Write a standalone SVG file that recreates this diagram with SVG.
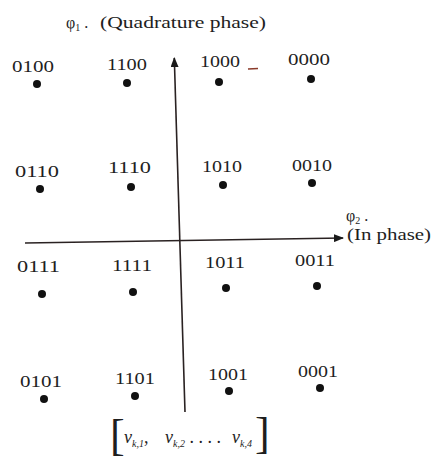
<svg xmlns="http://www.w3.org/2000/svg" width="432" height="460" viewBox="0 0 432 460">
<style>
.lbl{font-family:"Liberation Serif",serif;font-size:17.5px;fill:#1e1e1e}
.cap{font-family:"Liberation Serif",serif;font-size:16px;fill:#1e1e1e}
.sub{font-size:10px}
.dot{fill:#111}
.ax{stroke:#2a2222;stroke-width:1.6;fill:none}
.it{font-style:italic}
.br{font-family:"Liberation Serif",serif;font-size:44px;fill:#1e1e1e}
</style>
<defs>
<marker id="ah" markerWidth="10" markerHeight="8" refX="9" refY="4" orient="auto" markerUnits="userSpaceOnUse">
<path d="M0,0 L10,4 L0,8 Z" fill="#1a1a1a"/>
</marker>
</defs>
<rect width="432" height="460" fill="#fff"/>
<g id="connectors">
<line class="ax" x1="185" y1="412" x2="174.3" y2="58" marker-end="url(#ah)"/>
<line class="ax" x1="25" y1="243" x2="343" y2="238" marker-end="url(#ah)"/>
</g>
<g id="axis-labels">
<text class="cap" x="66" y="28"><tspan>φ</tspan><tspan class="sub" dy="3">1</tspan><tspan dy="-3"> . </tspan><tspan x="100" textLength="166" lengthAdjust="spacingAndGlyphs">(Quadrature phase)</tspan></text>
<text class="cap" x="346" y="221"><tspan>φ</tspan><tspan class="sub" dy="3">2</tspan><tspan dy="-3"> .</tspan></text>
<text class="cap" x="347" y="240" textLength="84" lengthAdjust="spacingAndGlyphs">(In phase)</text>
</g>
<g id="p0100"><text class="lbl" x="12" y="72" textLength="42" lengthAdjust="spacingAndGlyphs">0100</text><circle class="dot" cx="37" cy="84" r="4"/></g>
<g id="p1100"><text class="lbl" x="107" y="70" textLength="40" lengthAdjust="spacingAndGlyphs">1100</text><circle class="dot" cx="127" cy="83" r="4"/></g>
<g id="p1000"><text class="lbl" x="200" y="67" textLength="40" lengthAdjust="spacingAndGlyphs">1000</text><line x1="248" y1="69" x2="258" y2="68.5" stroke="#8a3a2a" stroke-width="1.5"/><circle class="dot" cx="219" cy="82" r="4"/></g>
<g id="p0000"><text class="lbl" x="288" y="65" textLength="42" lengthAdjust="spacingAndGlyphs">0000</text><circle class="dot" cx="311" cy="79" r="4"/></g>
<g id="p0110"><text class="lbl" x="15" y="177" textLength="44" lengthAdjust="spacingAndGlyphs">0110</text><circle class="dot" cx="40" cy="189" r="4"/></g>
<g id="p1110"><text class="lbl" x="108" y="173" textLength="43" lengthAdjust="spacingAndGlyphs">1110</text><circle class="dot" cx="131" cy="187" r="4"/></g>
<g id="p1010"><text class="lbl" x="202" y="172" textLength="40" lengthAdjust="spacingAndGlyphs">1010</text><circle class="dot" cx="223" cy="185" r="4"/></g>
<g id="p0010"><text class="lbl" x="292" y="171" textLength="40" lengthAdjust="spacingAndGlyphs">0010</text><circle class="dot" cx="312" cy="183" r="4"/></g>
<g id="p0111"><text class="lbl" x="17" y="272" textLength="43" lengthAdjust="spacingAndGlyphs">0111</text><circle class="dot" cx="42" cy="294" r="4"/></g>
<g id="p1111"><text class="lbl" x="112" y="271" textLength="40" lengthAdjust="spacingAndGlyphs">1111</text><circle class="dot" cx="133" cy="292" r="4"/></g>
<g id="p1011"><text class="lbl" x="205" y="268" textLength="40" lengthAdjust="spacingAndGlyphs">1011</text><circle class="dot" cx="226" cy="288" r="4"/></g>
<g id="p0011"><text class="lbl" x="295" y="266" textLength="40" lengthAdjust="spacingAndGlyphs">0011</text><circle class="dot" cx="317" cy="286" r="4"/></g>
<g id="p0101"><text class="lbl" x="20" y="387" textLength="42" lengthAdjust="spacingAndGlyphs">0101</text><circle class="dot" cx="44" cy="399" r="4"/></g>
<g id="p1101"><text class="lbl" x="115" y="384" textLength="40" lengthAdjust="spacingAndGlyphs">1101</text><circle class="dot" cx="135" cy="396" r="4"/></g>
<g id="p1001"><text class="lbl" x="208" y="380" textLength="40" lengthAdjust="spacingAndGlyphs">1001</text><circle class="dot" cx="229" cy="391" r="4"/></g>
<g id="p0001"><text class="lbl" x="298" y="377" textLength="40" lengthAdjust="spacingAndGlyphs">0001</text><circle class="dot" cx="320" cy="388" r="4"/></g>
<g id="vector-label">
<text class="br" x="110" y="450">[</text>
<text class="br" x="255" y="448">]</text>
<text class="cap" style="font-size:18px"><tspan class="it" x="124" y="443">v</tspan><tspan class="it sub" dy="4">k,1</tspan><tspan dy="-4">,</tspan><tspan class="it" x="165">v</tspan><tspan class="it sub" dy="4">k,2</tspan><tspan dy="-4"> . . . . </tspan><tspan class="it" x="232">v</tspan><tspan class="it sub" dy="4">k,4</tspan></text>
</g>
</svg>
